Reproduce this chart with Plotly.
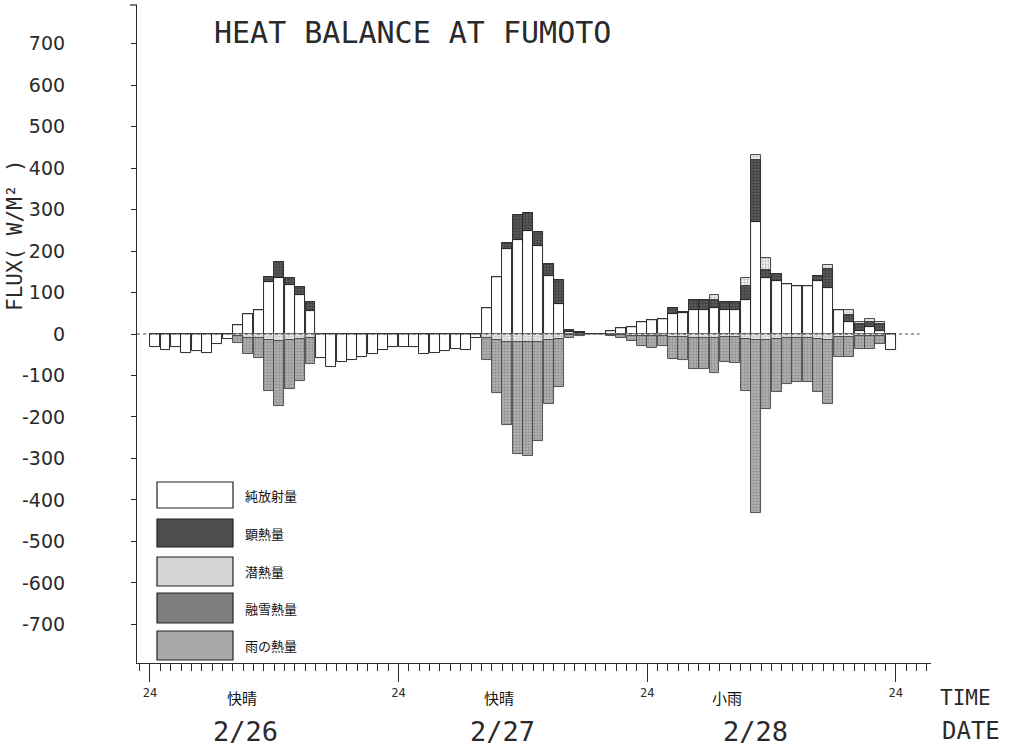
import plotly.graph_objects as go

# Hourly heat-balance components at Fumoto, 2/26 00h - 2/28 24h (W/m^2)
hours = list(range(72))

net_radiation = [
    -31, -39, -31, -46, -41, -46, -23, -12, 21, 48, 57, 126, 136, 119, 95, 55, -57, -79, -67, -63, -55, -47, -39, -32,
    -31, -31, -47, -46, -40, -37, -39, -10, 62, 138, 206, 227, 249, 212, 141, 73, 4, 3, 1, 1, 8, 15, 18, 30,
    33, 37, 49, 50, 57, 57, 62, 57, 57, 83, 269, 136, 128, 121, 115, 116, 128, 111, 58, 30, 8, 17, 8, -38,
]
sensible_heat = [
    0, 0, 0, 0, 0, 0, 0, 0, 0, 0, 0, 12, 38, 15, 19, 21, 0, 0, 0, 0, 0, 0, 0, 0,
    0, 0, 0, 0, 0, 0, 0, 0, 0, 0, 13, 60, 43, 35, 27, 57, 6, 2, 0, 0, 0, 0, 0, 0,
    0, 0, 13, 4, 24, 26, 20, 19, 19, 32, 151, 18, 16, 0, 0, 0, 12, 45, 0, 17, 17, 13, 17, 0,
]
latent_heat = [
    0, 0, 0, 0, 0, 0, 0, 0, -6, -10, -10, -15, -18, -15, -12, -10, 0, 0, 0, 0, 0, 0, 0, 0,
    0, 0, 0, 0, 0, 0, 0, 0, -10, -15, -20, -20, -20, -20, -15, -12, -3, -2, 0, 0, -2, -3, -4, -5,
    -5, -5, -8, -8, -10, -10, -10, -8, -8, -12, -15, -15, -12, -10, -10, -10, -12, -15, -8, -8, -5, -5, -5, 0,
]
melt_heat = [
    0, 0, 0, 0, 0, 0, 0, 0, -15, -38, -47, -123, -156, -117, -101, -62, 0, 0, 0, 0, 0, 0, 0, 0,
    0, 0, 0, 0, 0, 0, 0, 0, -53, -127, -200, -270, -275, -238, -154, -116, -7, -3, -1, -1, -4, -7, -14, -25,
    -29, -25, -52, -54, -75, -75, -83, -60, -62, -125, -417, -166, -128, -110, -105, -106, -128, -154, -47, -47, -30, -30, -20, 0,
]
rain_heat = [
    0, 0, 0, 0, 0, 0, 0, 0, 0, 0, 0, 0, 0, 0, 0, 0, 0, 0, 0, 0, 0, 0, 0, 0,
    0, 0, 0, 0, 0, 0, 0, 0, 0, 0, 0, 0, 0, 0, 0, 0, 0, 0, 0, 0, 0, 0, 0, 0,
    0, 0, 0, 0, 0, 0, 13, 0, 0, 21, 12, 28, 0, 0, 0, 0, 0, 10, 0, 10, 5, 6, 5, 0,
]

series_names = ["純放射量", "顕熱量", "潜熱量", "融雪熱量", "雨の熱量"]
y_ticks = list(range(-700, 701, 100))
day_ticks = [0, 24, 48, 72]
day_labels = ["2/26", "2/27", "2/28"]
weather_labels = ["快晴", "快晴", "小雨"]

# plot-area geometry in pixels
W, H = 1009, 747
L, R, T, B = 137, 931, 5, 663
X_RANGE = [-1.25, 75.4]
Y_RANGE = [-793, 793]

def px_x(px):
    return (px - L) / (R - L)

def px_y(py):
    return (B - py) / (B - T)

x_center = [h + 0.5 for h in hours]

styles = {
    "純放射量": dict(color="#ffffff", line="#111111", pat=None),
    "顕熱量": dict(color="#4a4a4a", line="#222222", pat=dict(shape=".", fgcolor="#1c1c1c", bgcolor="#5a5a5a", size=3, solidity=0.4)),
    "潜熱量": dict(color="#d9d9d9", line="#777777", pat=dict(shape=".", fgcolor="#9a9a9a", bgcolor="#e2e2e2", size=3, solidity=0.2)),
    "融雪熱量": dict(color="#a0a0a0", line="#444444", pat=dict(shape=".", fgcolor="#666666", bgcolor="#b0b0b0", size=3, solidity=0.35)),
    "雨の熱量": dict(color="#c8c8c8", line="#333333", pat=dict(shape=".", fgcolor="#888888", bgcolor="#eeeeee", size=3, solidity=0.3)),
}
values = {
    "純放射量": net_radiation,
    "顕熱量": sensible_heat,
    "潜熱量": latent_heat,
    "融雪熱量": melt_heat,
    "雨の熱量": rain_heat,
}

fig = go.Figure()
for name in series_names:
    st = styles[name]
    marker = dict(color=st["color"], line=dict(color=st["line"], width=0.9))
    if st["pat"]:
        marker["pattern"] = st["pat"]
    fig.add_trace(go.Bar(
        x=x_center, y=values[name], width=0.96, name=name,
        marker=marker, showlegend=False,
    ))

plotter_font = "DejaVu Sans Mono"
ink = "#2a2a2a"

shapes = [
    # dotted zero line
    dict(type="line", xref="x", yref="y", x0=X_RANGE[0], x1=74.3, y0=0, y1=0,
         line=dict(color="#444444", width=1, dash="dot")),
    # small tick at the top of the vertical axis
    dict(type="line", xref="paper", yref="paper", x0=px_x(130), x1=0, y0=1, y1=1,
         line=dict(color=ink, width=1.2)),
]

annotations = [
    dict(text="HEAT BALANCE AT FUMOTO", x=px_x(412), y=px_y(33), xref="paper", yref="paper",
         xanchor="center", yanchor="middle",
         showarrow=False, font=dict(family=plotter_font, size=30, color=ink)),
    dict(text="FLUX( W/M² )", x=px_x(15), y=px_y(235), xref="paper", yref="paper",
         xanchor="center", yanchor="middle", textangle=-90, showarrow=False,
         font=dict(family=plotter_font, size=21, color=ink)),
    dict(text="TIME", x=px_x(938), y=px_y(698), xref="paper", yref="paper",
         xanchor="left", yanchor="middle",
         showarrow=False, font=dict(family=plotter_font, size=21, color=ink)),
    dict(text="DATE", x=px_x(940), y=px_y(731), xref="paper", yref="paper",
         xanchor="left", yanchor="middle",
         showarrow=False, font=dict(family=plotter_font, size=24, color=ink)),
]

# date and weather labels under each day
day_centers = [9.2, 34.0, 58.5]
weather_pos = [8.9, 33.7, 55.7]
for dc, dl in zip(day_centers, day_labels):
    annotations.append(dict(text=dl, x=dc, y=px_y(731), xref="x", yref="paper",
                            xanchor="center", yanchor="middle",
                            showarrow=False, font=dict(family=plotter_font, size=27, color=ink)))
for wp, wl in zip(weather_pos, weather_labels):
    annotations.append(dict(text=wl, x=wp, y=px_y(697), xref="x", yref="paper",
                            xanchor="center", yanchor="middle",
                            showarrow=False, font=dict(family="Noto Sans CJK JP", size=15, color="#111111")))

# legend boxes with their labels
legend_boxes = [(482, 508), (519, 547), (557, 586), (593, 623), (631, 660)]
legend_fill = {
    "純放射量": "#ffffff",
    "顕熱量": "#4d4d4d",
    "潜熱量": "#d4d4d4",
    "融雪熱量": "#7e7e7e",
    "雨の熱量": "#a9a9a9",
}
for name, (y0, y1) in zip(series_names, legend_boxes):
    shapes.append(dict(type="rect", xref="paper", yref="paper",
                       x0=px_x(157), x1=px_x(233), y0=px_y(y1), y1=px_y(y0),
                       fillcolor=legend_fill[name], line=dict(color="#222222", width=1.2)))
    annotations.append(dict(text=name, x=px_x(243), y=px_y((y0 + y1) / 2), xref="paper", yref="paper",
                            xanchor="left", yanchor="middle", showarrow=False,
                            font=dict(family="Noto Sans CJK JP", size=13, color="#111111")))

fig.update_layout(
    width=W, height=H,
    margin=dict(l=L, r=W - R, t=T, b=H - B),
    paper_bgcolor="white", plot_bgcolor="white",
    barmode="relative", bargap=0,
    shapes=shapes, annotations=annotations,
    font=dict(family="DejaVu Sans", color=ink),
)
fig.update_xaxes(
    range=X_RANGE, showgrid=False, zeroline=False,
    showline=True, linecolor=ink, linewidth=1.2,
    tickvals=day_ticks, ticktext=["24"] * 4, ticks="outside", ticklen=18,
    tickcolor=ink, tickwidth=1.2,
    tickfont=dict(family=plotter_font, size=12, color=ink),
    minor=dict(dtick=1, tick0=0, ticks="outside", ticklen=7, tickcolor=ink, tickwidth=1),
)
fig.update_yaxes(
    range=Y_RANGE, showgrid=False, zeroline=False,
    showline=True, linecolor=ink, linewidth=1.2,
    tickvals=y_ticks, ticktext=[str(v) for v in y_ticks],
    ticks="outside", ticklen=5, tickcolor=ink, ticklabelstandoff=62,
    tickfont=dict(family="DejaVu Sans", size=19, color=ink),
)

fig.write_html("out.html")
